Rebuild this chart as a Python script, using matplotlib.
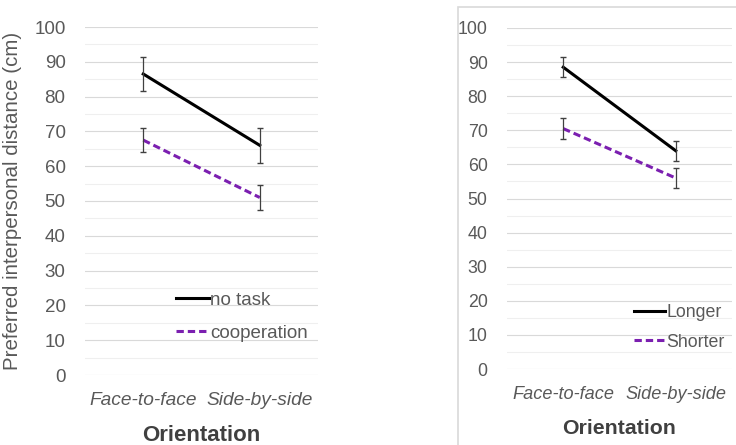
import matplotlib.pyplot as plt
from matplotlib.patches import Rectangle

plt.rcParams['font.family'] = ['Liberation Sans', 'DejaVu Sans']

# data
orient = ['Face-to-face', 'Side-by-side']

notask = [86.5, 66.0]
notask_err = [5.0, 5.0]
coop = [67.5, 51.0]
coop_err = [3.5, 3.5]

longer = [88.5, 64.0]
longer_err = [3.0, 3.0]
shorter = [70.5, 56.0]
shorter_err = [3.0, 3.0]

yticks = list(range(0, 101, 10))

grey = '#595959'
purple = '#7b1fb0'

fig = plt.figure(figsize=(7.36, 4.45), dpi=100)
# light frame around the right panel
fig.patches.append(Rectangle((458/736, -0.1), 0.5, 1 - 7/445 + 0.1,
                             transform=fig.transFigure, fill=False,
                             ec='#d9d9d9', lw=1.2))

ax1 = fig.add_axes([85/736, 1 - 375/445, 233/736, 348/445])
ax2 = fig.add_axes([507/736, 1 - 369/445, 225/736, 341/445])


def panel(ax, a, a_err, b, b_err, labs, leg_anchor, fs, lsp):
    x = range(len(orient))
    ax.plot(x, a, color='black', lw=2.2, label=labs[0])
    ax.plot(x, b, color=purple, lw=2.2, ls=(0, (2.4, 1.3)), label=labs[1])
    ax.errorbar(x, a, yerr=a_err, fmt='none', ecolor='#404040', elinewidth=0.9, capsize=2.2)
    ax.errorbar(x, b, yerr=b_err, fmt='none', ecolor='#404040', elinewidth=0.9, capsize=2.2)
    ax.set_xlim(-0.5, 1.5)
    ax.set_ylim(0, 100)
    ax.set_yticks(yticks)
    ax.set_yticks(range(5, 100, 10), minor=True)
    ax.grid(axis='y', which='major', color='#d9d9d9', lw=0.8)
    ax.grid(axis='y', which='minor', color='#efefef', lw=0.8)
    ax.set_axisbelow(True)
    for s in ax.spines.values():
        s.set_visible(False)
    ax.tick_params(axis='both', which='both', length=0, colors=grey, labelsize=fs)
    ax.tick_params(axis='y', pad=14)
    ax.set_xticks(list(x))
    ax.set_xticklabels(orient, style='italic', color=grey, fontsize=fs + 0.3)
    ax.tick_params(axis='x', pad=12)
    ax.set_xlabel('Orientation', fontsize=fs + 2.5, fontweight='bold', color='#404040', labelpad=12)
    leg = ax.legend(loc='upper left', bbox_to_anchor=leg_anchor, frameon=False,
                    fontsize=fs, handlelength=1.75, handletextpad=0.08,
                    labelspacing=lsp, borderpad=0, borderaxespad=0)
    for t in leg.get_texts():
        t.set_color(grey)


panel(ax1, notask, notask_err, coop, coop_err, ['no task', 'cooperation'], (0.39, 0.24), 13.5, 0.85)
panel(ax2, longer, longer_err, shorter, shorter_err, ['Longer', 'Shorter'], (0.565, 0.19), 12.8, 0.7)

ax1.set_ylabel('Preferred interpersonal distance (cm)', fontsize=14.8, color=grey, labelpad=9)

fig.savefig('out.png', dpi=100)
